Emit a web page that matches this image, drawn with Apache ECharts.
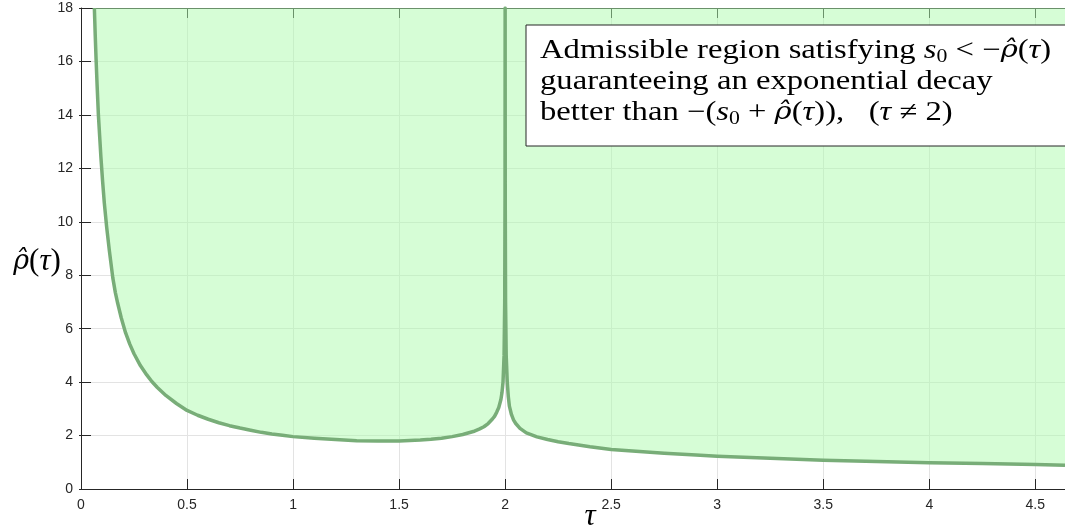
<!DOCTYPE html>
<html><head><meta charset="utf-8">
<script src="https://cdn.jsdelivr.net/npm/echarts@6/dist/echarts.min.js"></script>
<style>html,body{margin:0;padding:0;background:#fff}#c{width:1065px;height:531px}</style>
</head><body><div id="c"></div>
<script>
const tau = [0.063,0.067,0.071,0.076,0.082,0.088,0.094,0.102,0.110,0.121,0.134,0.150,0.162,0.173,0.19,0.21,0.23,0.25,0.28,0.31,0.333,0.36,0.40,0.45,0.5,0.55,0.6,0.65,0.7,0.75,0.8,0.85,0.9,0.95,1.0,1.1,1.2,1.3,1.4,1.5,1.6,1.65,1.7,1.75,1.8,1.85,1.88,1.9,1.92,1.94,1.95,1.96,1.97,1.98,1.985,1.99,1.995,1.998,1.9995,2.0,2.0005,2.002,2.005,2.01,2.015,2.02,2.03,2.04,2.05,2.07,2.1,2.15,2.2,2.25,2.3,2.4,2.5,2.6,2.75,2.9,3.0,3.25,3.5,3.75,4.0,4.25,4.5,4.64];
const rho = [18.0,17.0,16.1,15.1,14.0,13.2,12.4,11.5,10.7,9.8,8.9,7.9,7.35,6.95,6.4,5.85,5.42,5.06,4.62,4.27,4.03,3.8,3.5,3.2,2.94,2.76,2.61,2.48,2.37,2.28,2.2,2.12,2.06,2.01,1.96,1.9,1.85,1.81,1.795,1.8,1.83,1.86,1.9,1.96,2.04,2.15,2.25,2.33,2.45,2.62,2.72,2.87,3.05,3.35,3.6,4.0,5.0,7.0,11.0,18.0,11.0,7.0,5.0,4.0,3.45,3.1,2.78,2.58,2.45,2.27,2.1,1.95,1.85,1.77,1.7,1.58,1.48,1.42,1.34,1.27,1.23,1.15,1.08,1.03,0.98,0.95,0.92,0.89];
const xTicks = ['0','0.5','1','1.5','2','2.5','3','3.5','4','4.5'];
const yTicks = ['0','2','4','6','8','10','12','14','16','18'];

const axisColor = '#262626';
const gridColor = '#e3e3e3';
const serif = 'Liberation Serif, Times New Roman, serif';
const mathSerif = 'DejaVu Serif, serif';
const chart = echarts.init(document.getElementById('c'));
const data = tau.map((t,i)=>[t,rho[i]]);
chart.setOption({
  animation:false,
  grid:{left:81,top:8,right:0,bottom:42,containLabel:false},
  xAxis:[{type:'value',min:0,max:4.64,interval:0.5,position:'bottom',
    axisLine:{show:true,onZero:false,lineStyle:{color:axisColor,width:1}},
    axisTick:{show:true,inside:true,length:10,lineStyle:{color:axisColor}},
    axisLabel:{color:axisColor,fontSize:14,fontFamily:'Liberation Sans, Arial',margin:9,showMaxLabel:false,
      formatter:v=>{const i=Math.round(v/0.5);return Math.abs(v-i*0.5)<1e-6?xTicks[i]:'';}},
    splitLine:{show:true,lineStyle:{color:gridColor,width:1}}},
   {type:'value',min:0,max:4.64,interval:0.5,position:'top',
    axisLine:{show:true,onZero:false,lineStyle:{color:axisColor,width:1}},
    axisTick:{show:true,inside:true,length:10,lineStyle:{color:axisColor}},
    axisLabel:{show:false},splitLine:{show:false}}],
  yAxis:[{type:'value',min:0,max:18,interval:2,position:'left',
    axisLine:{show:true,onZero:false,lineStyle:{color:axisColor,width:1}},
    axisTick:{show:true,inside:true,length:10,lineStyle:{color:axisColor}},
    axisLabel:{color:axisColor,fontSize:14,fontFamily:'Liberation Sans, Arial',margin:8,
      formatter:v=>yTicks[Math.round(v/2)]},
    splitLine:{show:true,lineStyle:{color:gridColor,width:1}}},
   {type:'value',min:0,max:18,interval:2,position:'right',
    axisLine:{show:false},
    axisTick:{show:true,inside:true,length:2,lineStyle:{color:axisColor}},
    axisLabel:{show:false},splitLine:{show:false}}],
  series:[{type:'line',data:data,xAxisIndex:0,yAxisIndex:0,showSymbol:false,
    smooth:false,clip:true,
    lineStyle:{color:'#78ad78',width:3.5,join:'round'},
    areaStyle:{origin:'end',color:'rgba(173,251,173,0.5)',opacity:1}}],
  graphic:[
    {type:'rect',shape:{x:526,y:25,width:600,height:121},style:{fill:'#fff',stroke:axisColor,lineWidth:1},z:100},
    {type:'text',x:540,y:35,scaleX:1.21,z:101,style:{
      text:'{r|Admissible region satisfying }{i|s}{s|0}{r| < −}{m|ρ̂}{r|(}{i|τ}{r|)}\n{r|guaranteeing an exponential decay}\n{r|better than −(}{i|s}{s|0}{r| + }{m|ρ̂}{r|(}{i|τ}{r|)),   (}{i|τ}{r| ≠ 2)}',
      rich:{
        r:{fontFamily:serif,fontSize:27,lineHeight:31,fill:'#000'},
        i:{fontFamily:serif,fontStyle:'italic',fontSize:27,lineHeight:31,fill:'#000'},
        m:{fontFamily:mathSerif,fontStyle:'italic',fontSize:24,lineHeight:31,fill:'#000'},
        s:{fontFamily:serif,fontSize:18,lineHeight:24,verticalAlign:'bottom',fill:'#000'}
      }}},
    {type:'text',x:37,y:262,z:101,style:{
      text:'{m|ρ̂}{r|(}{i|τ}{r|)}',align:'center',verticalAlign:'middle',
      rich:{
        m:{fontFamily:mathSerif,fontStyle:'italic',fontSize:27,fill:'#000'},
        r:{fontFamily:serif,fontSize:31,fill:'#000'},
        i:{fontFamily:serif,fontStyle:'italic',fontSize:31,fill:'#000'}
      }}},
    {type:'text',x:590,y:517,z:101,style:{text:'τ',fontFamily:serif,fontStyle:'italic',fontSize:31,fill:'#000',align:'center',verticalAlign:'middle'}}
  ]
});
</script></body></html>
